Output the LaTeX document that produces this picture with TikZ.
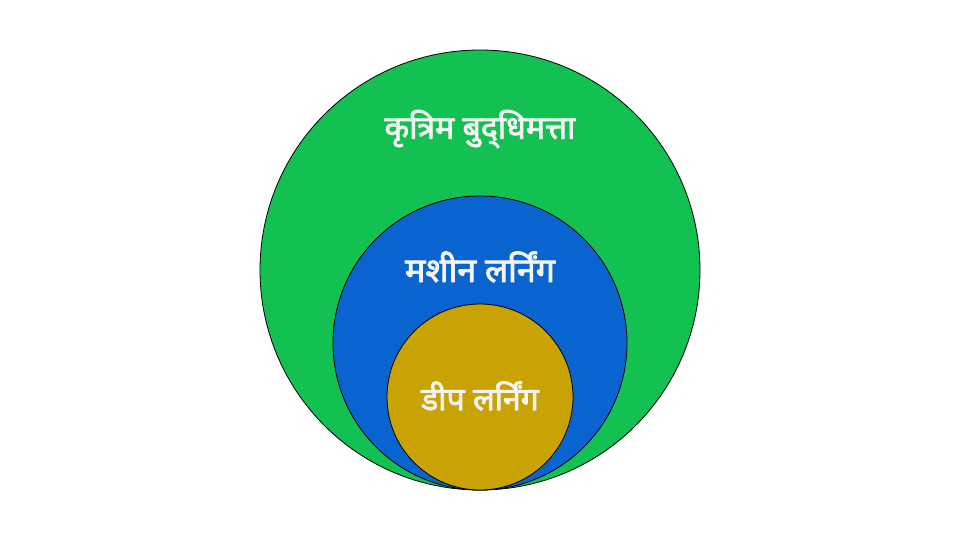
\documentclass[tikz,border=0pt]{standalone}
\usepackage{fontspec}
\newfontfamily\devfont[Script=Devanagari,AutoFakeBold=2.6]{Noto Sans}
\definecolor{aigreen}{HTML}{12C152}
\definecolor{mlblue}{HTML}{0A64CF}
\definecolor{dlgold}{HTML}{C9A203}
\definecolor{txtwhite}{HTML}{F4F4F4}
\tikzset{
  ring/.style={draw=black, line width=0.8pt},
  lbl/.style={text=txtwhite, font=\devfont\bfseries, inner sep=0pt}
}
\begin{document}
\begin{tikzpicture}[x=1pt,y=-1pt]
\useasboundingbox[fill=white] (0,0) rectangle (960,540);
\fill[aigreen, ring] (480,270) circle (220);
\fill[mlblue, ring] (480,343) circle (147);
\fill[dlgold, ring] (480,397) circle (93);
\node[lbl, font=\devfont\bfseries\fontsize{32}{38}\selectfont] (ai) at (480,129) {कृत्रिम बुद्\char"200C धिमत्ता};
\node[lbl, font=\devfont\bfseries\fontsize{34}{40}\selectfont] (ml) at (480,267) {मशीन लर्निंग};
\node[lbl, font=\devfont\bfseries\fontsize{32}{38}\selectfont] (dl) at (480,396) {डीप लर्निंग};
\end{tikzpicture}
\end{document}
